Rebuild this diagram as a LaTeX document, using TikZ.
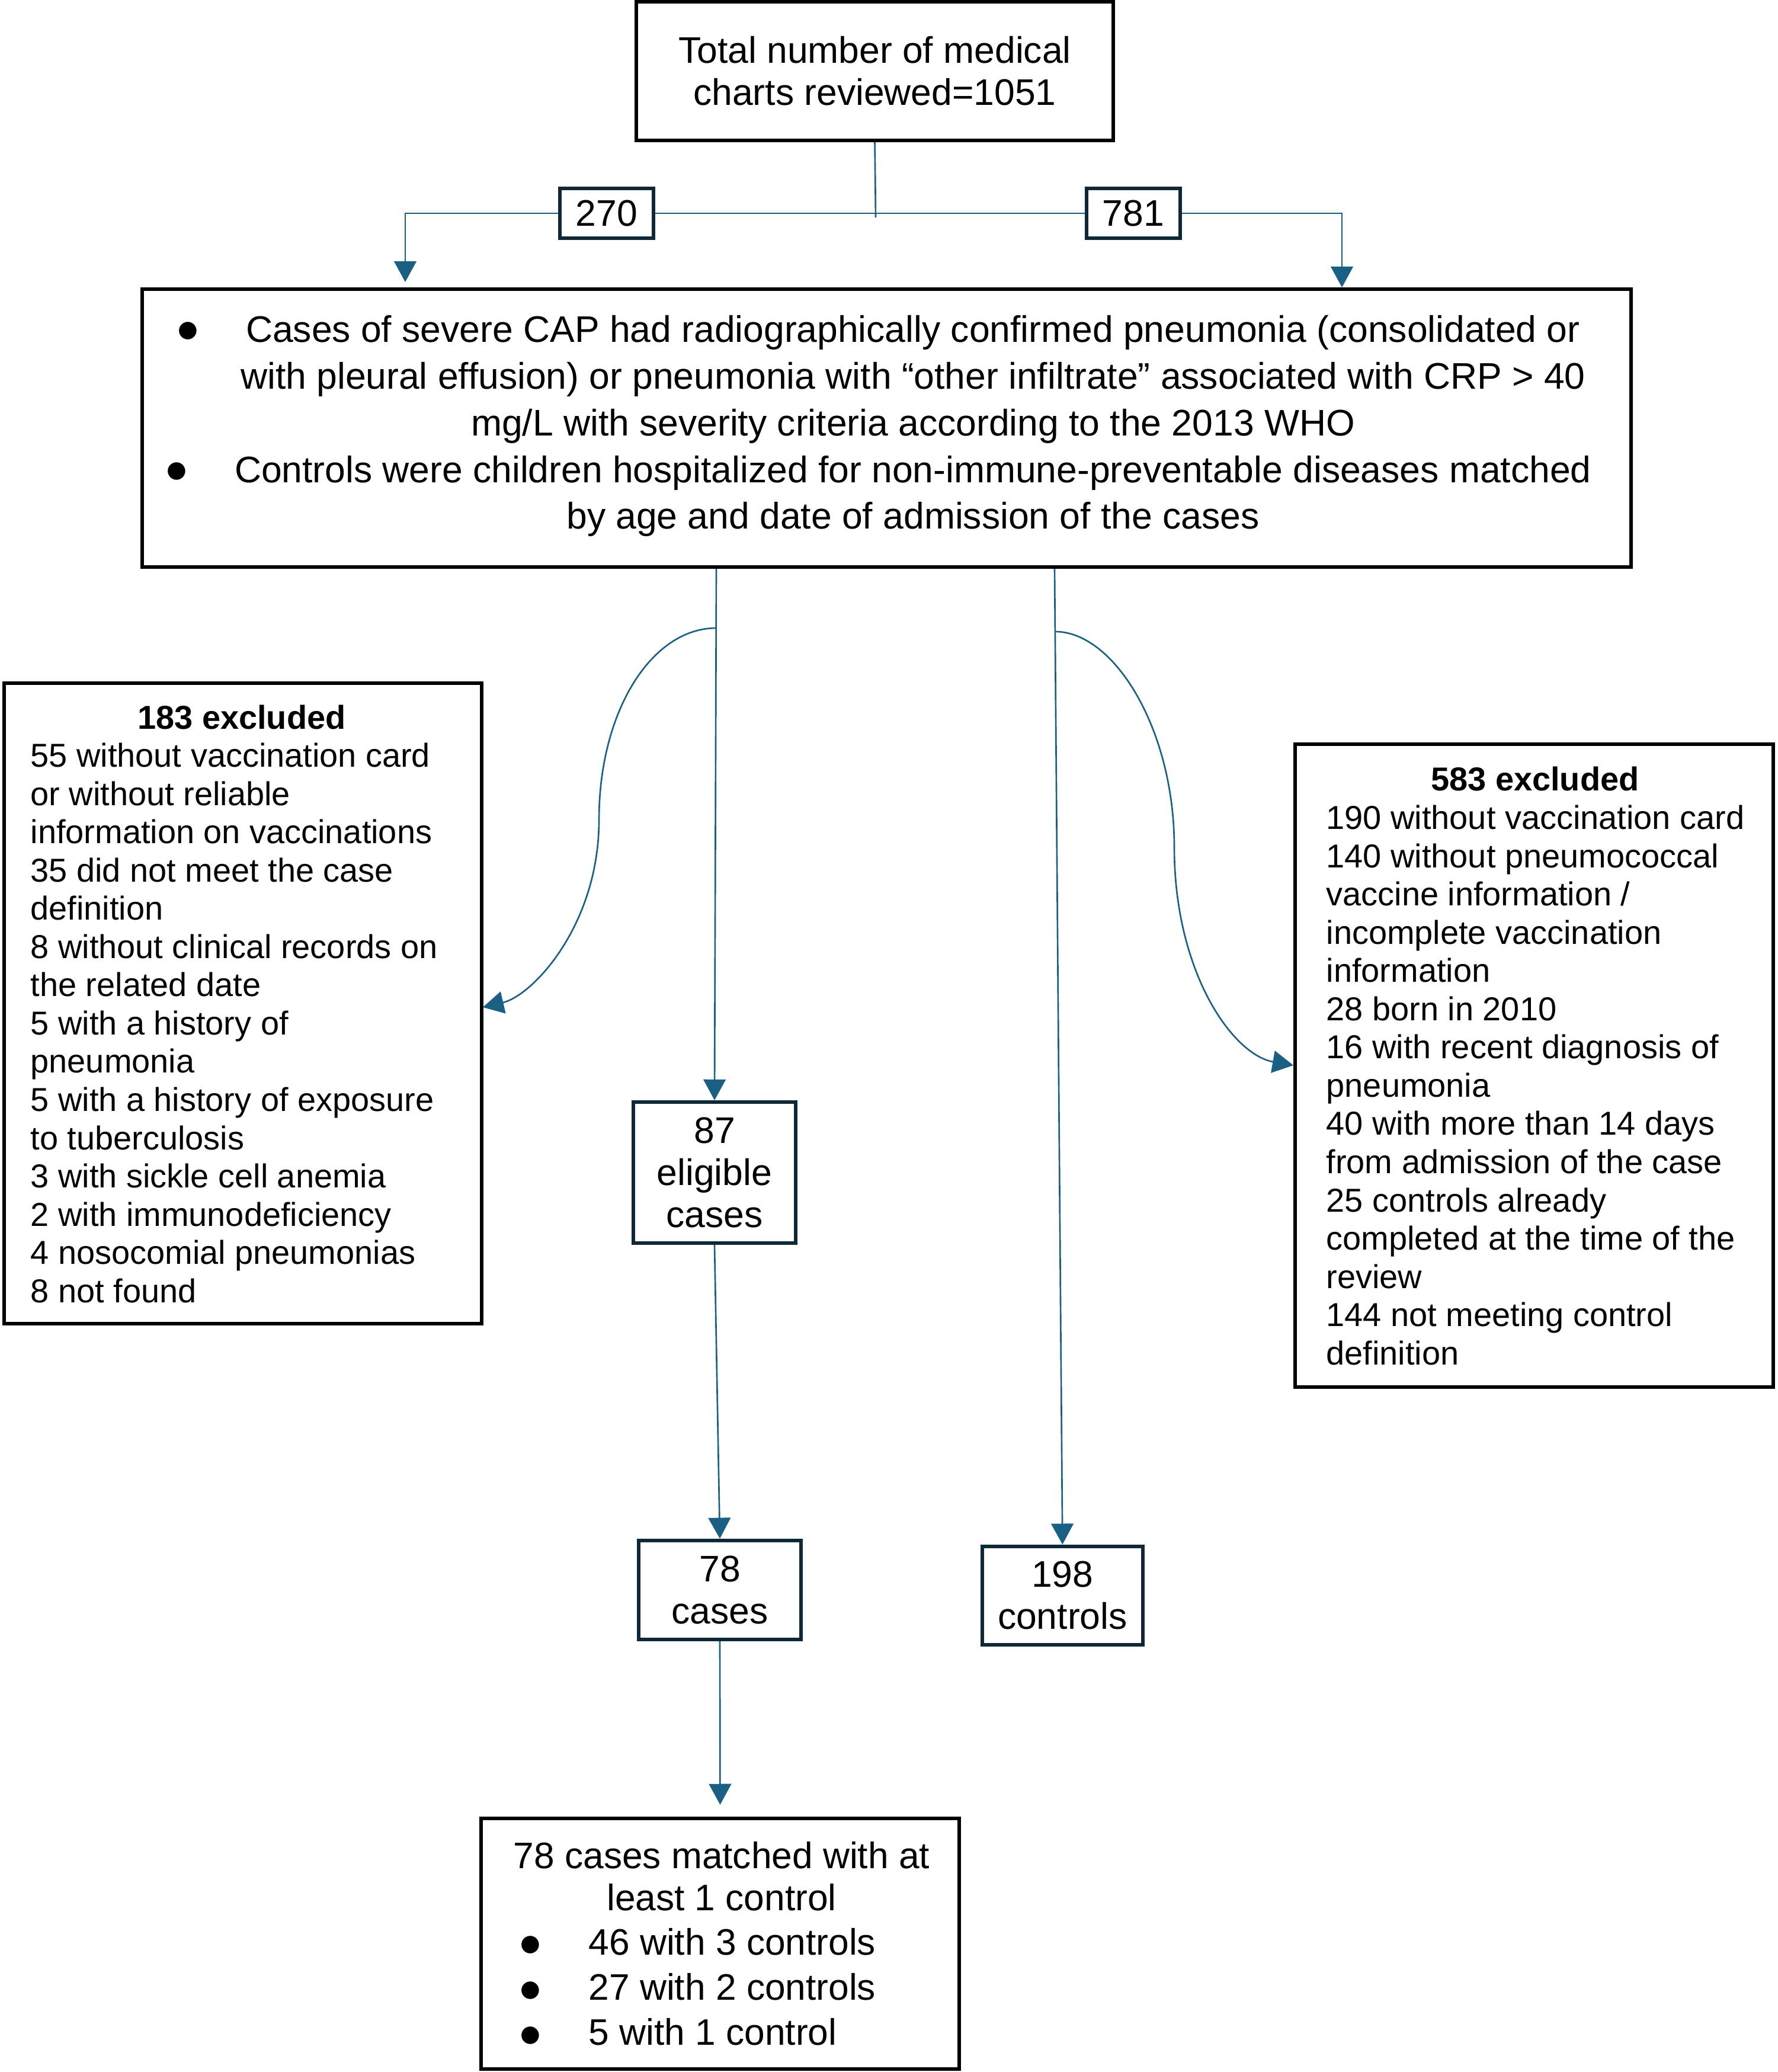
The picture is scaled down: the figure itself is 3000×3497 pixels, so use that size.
\documentclass[tikz,border=0pt]{standalone}
\usepackage{fontspec}
\setmainfont{Liberation Sans}
\newfontfamily\bulfont{DejaVu Sans}
\usetikzlibrary{arrows.meta}
\definecolor{linkc}{RGB}{26,96,132}
\definecolor{navyc}{RGB}{14,40,56}
\newcommand{\mybul}{{\bulfont\fontsize{11pt}{11pt}\selectfont ●}}
\tikzset{
  bx/.style={draw=black, line width=1.7pt, inner sep=0pt, rectangle},
  nbx/.style={draw=navyc, line width=1.7pt, inner sep=0pt, rectangle},
  conn/.style={draw=linkc, line width=0.75pt},
  arr/.style={conn, -{Triangle[width=10.7pt,length=10pt]}},
  bigtxt/.style={font=\fontsize{17.75pt}{20.3pt}\selectfont, align=center},
  smalltxt/.style={font=\fontsize{15.9pt}{18.35pt}\selectfont, inner sep=0pt},
  bultxt/.style={inner sep=0pt, anchor=center}
}
\begin{document}
\begin{tikzpicture}[x=0.01cm, y=-0.01cm]
\useasboundingbox (0,0) rectangle (3000,3497);

% top box
\node[bx, bigtxt, minimum width=8.05cm, minimum height=2.34cm] (top) at (1476.5,120)
  {Total number of medical\\charts reviewed=1051};

% split boxes
\node[nbx, bigtxt, minimum width=1.58cm, minimum height=0.84cm] (b270) at (1024,360) {270};
\node[nbx, bigtxt, minimum width=1.58cm, minimum height=0.84cm] (b781) at (1913,360) {781};

% main box
\node[bx, minimum width=25.11cm, minimum height=4.69cm] (main) at (1496.5,722.5) {};
\node[inner sep=0pt, anchor=north, align=center, font=\fontsize{17.75pt}{22.4pt}\selectfont] (mtxt) at (1541,527.8)
  {\rule{0pt}{14pt}Cases of severe CAP had radiographically confirmed pneumonia (consolidated or\\
   with pleural effusion) or pneumonia with “other infiltrate” associated with CRP > 40\\
   mg/L with severity criteria according to the 2013 WHO\\
   Controls were children hospitalized for non-immune-preventable diseases matched\\
   by age and date of admission of the cases};
\node[bultxt] (mb1) at (317,558) {\mybul};
\node[bultxt] (mb2) at (298,795) {\mybul};

% left exclusion box
\node[bx, minimum width=8.06cm, minimum height=10.81cm] (lbox) at (410,1693.5) {};
\node[smalltxt, anchor=base, font=\fontsize{15.9pt}{18.35pt}\selectfont\bfseries] (ltitle) at (408,1230) {183 excluded};
\node[smalltxt, anchor=north west, align=left] (lbody) at (51,1251.8)
  {\rule{0pt}{12pt}55 without vaccination card\\
   or without reliable\\
   information on vaccinations\\
   35 did not meet the case\\
   definition\\
   8 without clinical records on\\
   the related date\\
   5 with a history of\\
   pneumonia\\
   5 with a history of exposure\\
   to tuberculosis\\
   3 with sickle cell anemia\\
   2 with immunodeficiency\\
   4 nosocomial pneumonias\\
   8 not found};

% right exclusion box
\node[bx, minimum width=8.07cm, minimum height=10.85cm] (rbox) at (2589.5,1798.5) {};
\node[smalltxt, anchor=base, font=\fontsize{15.9pt}{18.35pt}\selectfont\bfseries] (rtitle) at (2591,1334) {583 excluded};
\node[smalltxt, anchor=north west, align=left] (rbody) at (2238,1356.8)
  {\rule{0pt}{12pt}190 without vaccination card\\
   140 without pneumococcal\\
   vaccine information /\\
   incomplete vaccination\\
   information\\
   28 born in 2010\\
   16 with recent diagnosis of\\
   pneumonia\\
   40 with more than 14 days\\
   from admission of the case\\
   25 controls already\\
   completed at the time of the\\
   review\\
   144 not meeting control\\
   definition};

% eligible / cases / controls
\node[nbx, bigtxt, minimum width=2.73cm, minimum height=2.38cm] (b87) at (1206,1979) {87\\eligible\\cases};
\node[nbx, bigtxt, minimum width=2.74cm, minimum height=1.67cm] (b78) at (1215,2683.3) {78\\cases};
\node[nbx, bigtxt, minimum width=2.71cm, minimum height=1.66cm] (b198) at (1793.3,2692.7) {198\\controls};

% bottom box
\node[bx, minimum width=8.07cm, minimum height=4.23cm] (bot) at (1215.5,3280.5) {};
\node[inner sep=0pt, anchor=north, align=center, font=\fontsize{17.7pt}{20.2pt}\selectfont] (bhead) at (1218,3106.8)
  {\rule{0pt}{13pt}78 cases matched with at\\least 1 control};
\node[inner sep=0pt, anchor=north west, align=left, font=\fontsize{17.7pt}{21.68pt}\selectfont] (blist) at (993,3252.9)
  {\rule{0pt}{13pt}46 with 3 controls\\27 with 2 controls\\5 with 1 control};
\node[bultxt] (bb1) at (895.6,3282.6) {\mybul};
\node[bultxt] (bb2) at (895.6,3359.4) {\mybul};
\node[bultxt] (bb3) at (895.6,3435) {\mybul};

% connector coordinates
\coordinate (tj) at (1478,367);
\coordinate (ltip) at (684,476);
\coordinate (rtip) at (2265,485);
\coordinate (mL) at (1209,960);
\coordinate (mR) at (1780,960);
\coordinate (cl0) at (1209,1060);
\coordinate (ltip2) at (815,1700);
\coordinate (cr0) at (1781,1066);
\coordinate (rtip2) at (2183,1798);

% connectors
\draw[conn] (top.south) -- (tj);
\draw[conn] (b270.east) -- (b781.west);
\draw[arr] (b270.west) -| (ltip);
\draw[arr] (b781.east) -| (rtip);
\draw[arr] (mL) -- (b87.north);
\draw[arr] (mR) -- (b198.north);
\draw[arr] (cl0) .. controls (1100,1060) and (1011,1200) .. (1011,1384)
                 .. controls (1011,1560) and (900,1680) .. (ltip2);
\draw[arr] (cr0) .. controls (1880,1066) and (1982,1230) .. (1982,1430)
                 .. controls (1982,1640) and (2080,1780) .. (rtip2);
\draw[arr] (b87.south) -- (b78.north);
\draw[arr, shorten >=0.2cm] (b78.south) -- (bot.north);
\end{tikzpicture}
\end{document}
